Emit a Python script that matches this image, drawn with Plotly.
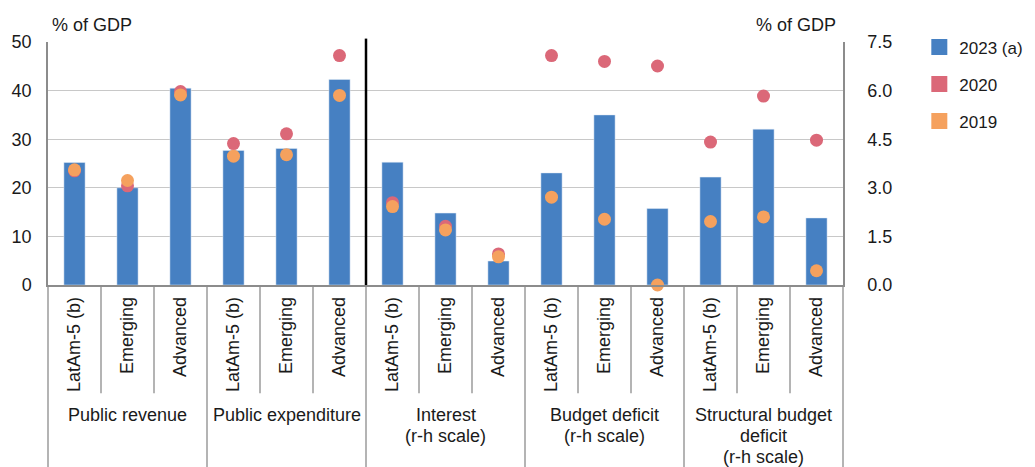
import plotly.graph_objects as go

# ---- data ----
groups_left = ["Public revenue", "Public expenditure"]
groups_right = ["Interest<br>(r-h scale)", "Budget deficit<br>(r-h scale)",
                "Structural budget<br>deficit<br>(r-h scale)"]
regions = ["LatAm-5 (b)", "Emerging", "Advanced"]

v2023_left = [25.2, 20.0, 40.5, 27.7, 28.1, 42.3]
v2020_left = [23.5, 20.4, 39.8, 29.1, 31.1, 47.2]
v2019_left = [23.7, 21.5, 39.1, 26.5, 26.8, 39.0]

v2023_right = [3.79, 2.22, 0.74, 3.46, 5.25, 2.36, 3.33, 4.81, 2.07]
v2020_right = [2.54, 1.81, 0.96, 7.08, 6.90, 6.76, 4.41, 5.83, 4.47]
v2019_right = [2.42, 1.70, 0.87, 2.71, 2.03, 0.00, 1.96, 2.10, 0.44]

series_names = ["2023 (a)", "2020", "2019"]

# ---- style ----
BLUE = "#4680C2"
RED = "#DB6878"
ORANGE = "#F5A15E"
GRID = "#C8C8C8"
AXIS = "#8C8C8C"
FONT = "Liberation Sans"
FS = 18
PLOT_H = 243  # px height of plot area


def keys(groups):
    return [g + "|" + r for g in groups for r in regions]


xl = keys(groups_left)
xr = keys(groups_right)
all_keys = xl + xr
tick_text = [k.split("|")[1] for k in all_keys]

fig = go.Figure()
fig.add_trace(go.Bar(x=xl, y=v2023_left, marker_color=BLUE, width=0.4,
                     showlegend=False, yaxis="y"))
fig.add_trace(go.Bar(x=xr, y=v2023_right, marker_color=BLUE, width=0.4,
                     showlegend=False, yaxis="y2"))
for vals, xs, ax in [(v2020_left, xl, "y"), (v2020_right, xr, "y2")]:
    fig.add_trace(go.Scatter(x=xs, y=vals, mode="markers", yaxis=ax,
                             marker=dict(color=RED, size=13), cliponaxis=False,
                             showlegend=False))
for vals, xs, ax in [(v2019_left, xl, "y"), (v2019_right, xr, "y2")]:
    fig.add_trace(go.Scatter(x=xs, y=vals, mode="markers", yaxis=ax,
                             marker=dict(color=ORANGE, size=13), cliponaxis=False,
                             showlegend=False))

# legend entries (square swatches)
for name, col in zip(series_names, [BLUE, RED, ORANGE]):
    fig.add_trace(go.Scatter(x=[None], y=[None], mode="markers", name=name,
                             legendgroup=name,
                             marker=dict(color=col, symbol="square", size=16)))

n_cat = len(all_keys)
shapes = []
# category boundary lines in the label area
for i in range(n_cat + 1):
    is_group = (i % 3 == 0)
    shapes.append(dict(type="line", xref="paper", yref="paper",
                       x0=i / n_cat, x1=i / n_cat, y0=0,
                       y1=-0.76 if is_group else -0.445,
                       line=dict(color=AXIS, width=1.3)))
# black separator
shapes.append(dict(type="line", xref="paper", yref="paper",
                   x0=len(xl) / n_cat, x1=len(xl) / n_cat, y0=0, y1=1.014,
                   line=dict(color="black", width=2.5)))

annotations = [
    dict(text="% of GDP", xref="paper", yref="paper", x=0.003, y=1.071,
         xanchor="left", yanchor="middle", showarrow=False,
         font=dict(size=FS)),
    dict(text="% of GDP", xref="paper", yref="paper", x=0.994, y=1.071,
         xanchor="right", yanchor="middle", showarrow=False,
         font=dict(size=FS)),
]
# group labels under the middle category of each group (one line each)
first_line_px = 130.0   # px below the x axis
line_step_px = 21.0
for g in groups_left + groups_right:
    for k, line in enumerate(g.split("<br>")):
        annotations.append(dict(
            text=line, xref="x", yref="paper", x=g + "|" + regions[1],
            y=-(first_line_px + k * line_step_px) / PLOT_H,
            xanchor="center", yanchor="middle", showarrow=False,
            font=dict(size=FS)))

# the page body has an 8px margin: offset the figure accordingly
fig.update_layout(
    width=1027, height=459,
    margin=dict(l=40, r=192, t=34, b=182, pad=0, autoexpand=False),
    paper_bgcolor="white", plot_bgcolor="white",
    font=dict(family=FONT, size=FS, color="#1a1a1a"),
    barmode="overlay",
    shapes=shapes,
    annotations=annotations,
    xaxis=dict(type="category", categoryorder="array", categoryarray=all_keys,
               range=[-0.5, n_cat - 0.5],
               tickvals=all_keys, ticktext=tick_text,
               showgrid=False, showline=True, automargin=False,
               linecolor=AXIS, linewidth=1.5, ticks="", tickangle=-90,
               tickfont=dict(size=FS), ticklabelstandoff=3),
    yaxis=dict(range=[0, 50], dtick=10, showgrid=True, gridcolor=GRID,
               gridwidth=1, showline=True, linecolor=AXIS, linewidth=1.5,
               zeroline=False, ticks="", tickfont=dict(size=FS),
               automargin=False, ticklabelstandoff=11),
    yaxis2=dict(range=[0, 7.5], dtick=1.5, tickformat=".1f", overlaying="y",
                side="right", showgrid=False, showline=True, linecolor=AXIS,
                linewidth=1.5, zeroline=False, ticks="", automargin=False,
                ticklabelstandoff=19, tickfont=dict(size=FS)),
    legend=dict(x=1.096, y=1.052, xanchor="left", yanchor="top",
                font=dict(size=17), tracegroupgap=12, bgcolor="rgba(0,0,0,0)"),
)

fig.write_html("out.html")
